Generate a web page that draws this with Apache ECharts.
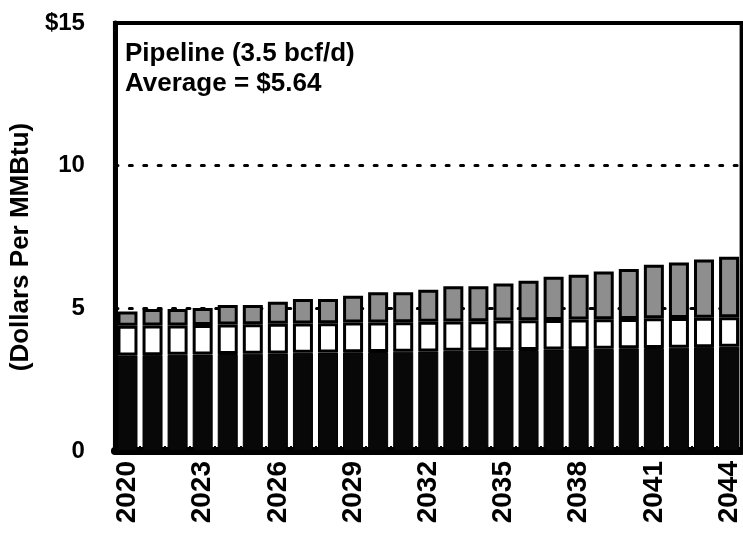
<!DOCTYPE html>
<html>
<head>
<meta charset="utf-8">
<script src="https://cdn.jsdelivr.net/npm/echarts@6/dist/echarts.min.js"></script>
<style>
  html, body { margin: 0; padding: 0; background: #fff; }
  #chart { width: 743px; height: 535px; }
</style>
</head>
<body>
<div id="chart"></div>
<script>
// Delivered cost build-up per year, dollars per MMBtu
var years = ['2020','2021','2022','2023','2024','2025','2026','2027','2028','2029',
             '2030','2031','2032','2033','2034','2035','2036','2037','2038','2039',
             '2040','2041','2042','2043','2044'];

// bottom (black) component
var baseCost = [3.35, 3.36, 3.37, 3.38, 3.40, 3.41, 3.42, 3.44, 3.45, 3.46,
                3.47, 3.48, 3.49, 3.51, 3.52, 3.53, 3.54, 3.56, 3.57, 3.58,
                3.60, 3.61, 3.62, 3.64, 3.65];

// middle (white) component
var midCost = [1.04, 1.04, 1.03, 1.04, 1.03, 1.03, 1.04, 1.03, 1.03, 1.04,
               1.03, 1.03, 1.04, 1.03, 1.03, 1.04, 1.04, 1.03, 1.04, 1.04,
               1.03, 1.04, 1.04, 1.03, 1.04];

// top (gray) component
var topCost = [0.50, 0.58, 0.58, 0.59, 0.69, 0.68, 0.77, 0.86, 0.85, 0.94,
               1.06, 1.05, 1.12, 1.23, 1.22, 1.30, 1.39, 1.52, 1.57, 1.67,
               1.75, 1.88, 1.95, 2.04, 2.12];

var yTicks = { min: 0, max: 15, step: 5 };
var headline = ['Pipeline (3.5 bcf/d)', 'Average = $5.64'];
var yTitle = '(Dollars Per MMBtu)';

var FONT = '"Liberation Sans", Arial, sans-serif';

var chart = echarts.init(document.getElementById('chart'), null, { renderer: 'canvas' });

chart.setOption({
  animation: false,
  backgroundColor: '#ffffff',
  title: {
    text: headline.join('\n'),
    left: 120,
    top: 34,
    textStyle: { fontFamily: FONT, fontWeight: 'bold', fontSize: 26, lineHeight: 30, color: '#000' }
  },
  grid: {
    left: 114, top: 23, width: 630, height: 428,
    show: true, borderColor: '#000', borderWidth: 4, backgroundColor: 'transparent'
  },
  xAxis: {
    type: 'category',
    data: years,
    axisLine: { show: true, lineStyle: { color: '#000', width: 8 } },
    axisTick: { show: true, inside: true, length: 5, interval: 0, lineStyle: { color: '#000', width: 2 } },
    axisLabel: {
      interval: 2, rotate: 90, margin: 10,
      fontFamily: FONT, fontWeight: 'bold', fontSize: 28, color: '#000'
    },
    splitLine: { show: false }
  },
  yAxis: {
    type: 'value',
    min: yTicks.min, max: yTicks.max, interval: yTicks.step,
    name: yTitle,
    nameLocation: 'middle',
    nameRotate: 90,
    nameGap: 64,
    nameTextStyle: { fontFamily: FONT, fontWeight: 'bold', fontSize: 26, color: '#000', padding: [0, 0, 0, -20] },
    axisLine: { show: true, lineStyle: { color: '#000', width: 5 } },
    axisTick: { show: false },
    axisLabel: {
      margin: 30,
      fontFamily: FONT, fontWeight: 'bold', fontSize: 24, color: '#000',
      formatter: function (v) { return v === yTicks.max ? '$' + v : String(v); }
    },
    // dotted reference lines at 5 and 10 only; 0 and 15 sit on the frame
    splitLine: {
      show: true,
      lineStyle: { color: ['rgba(0,0,0,0)', '#000', '#000', 'rgba(0,0,0,0)'], width: 3, type: [3, 11.4], cap: 'round' }
    }
  },
  series: [
    {
      name: 'Lower', type: 'bar', stack: 'cost', barWidth: 20, z: 3,
      data: baseCost,
      itemStyle: { color: '#080808', borderColor: '#000', borderWidth: 1 }
    },
    {
      name: 'Middle', type: 'bar', stack: 'cost', barWidth: 20, z: 3,
      data: midCost,
      itemStyle: { color: '#ffffff', borderColor: '#000', borderWidth: 3 }
    },
    {
      name: 'Upper', type: 'bar', stack: 'cost', barWidth: 20, z: 3,
      data: topCost,
      itemStyle: { color: '#8e8e8e', borderColor: '#000', borderWidth: 3 }
    }
  ]
});
</script>
</body>
</html>
